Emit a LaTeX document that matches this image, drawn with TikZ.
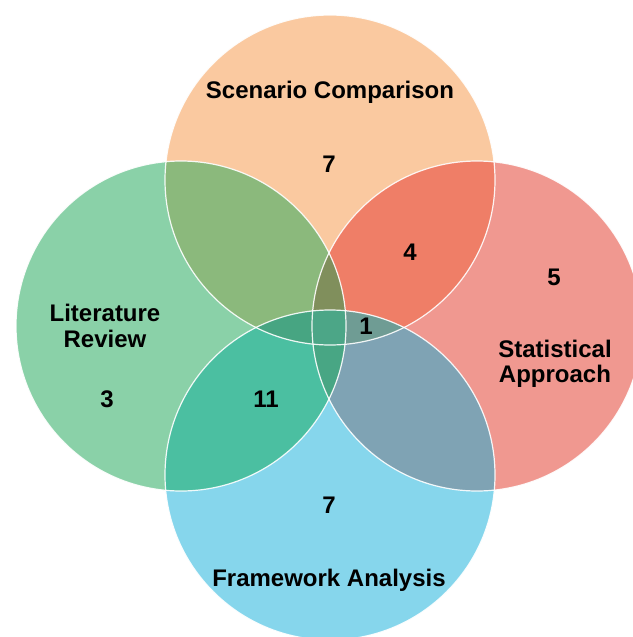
\documentclass[tikz,border=0pt]{standalone}
\usepackage{fontspec}
\setmainfont{Liberation Sans}
\definecolor{cO}{HTML}{FAC9A0}
\definecolor{cG}{HTML}{8AD1A8}
\definecolor{cR}{HTML}{F09890}
\definecolor{cB}{HTML}{86D6EC}
\definecolor{cOG}{HTML}{8BB97C}
\definecolor{cOR}{HTML}{EF7E67}
\definecolor{cGB}{HTML}{4BBFA1}
\definecolor{cRB}{HTML}{7FA3B4}
\definecolor{cOGR}{HTML}{808F5C}
\definecolor{cOGB}{HTML}{47A582}
\definecolor{cORB}{HTML}{6F9C94}
\definecolor{cGRB}{HTML}{48A684}
\definecolor{cAll}{HTML}{4CA687}
\tikzset{
  lbl/.style={font=\fontsize{18}{19}\selectfont\bfseries, text=black, align=center, inner sep=0pt},
  rim/.style={draw=white, line width=0.9pt, draw opacity=0.9}
}
\def\rr{123.75pt}
\def\cO{(330,180) circle [radius=\rr]}
\def\cG{(181,326) circle [radius=\rr]}
\def\cR{(477,326) circle [radius=\rr]}
\def\cB{(330,475) circle [radius=\rr]}
\begin{document}
\begin{tikzpicture}[x=0.75pt,y=-0.75pt]
\useasboundingbox (0,0) rectangle (633,637);
\fill[white] (0,0) rectangle (633,637);
\begin{scope}
\clip (0,0) rectangle (633,637);
% single circles
\fill[cO] \cO;
\fill[cR] \cR;
\fill[cG] \cG;
\fill[cB] \cB;
% pairwise
\begin{scope}\clip \cO; \fill[cOG] \cG; \end{scope}
\begin{scope}\clip \cO; \fill[cOR] \cR; \end{scope}
\begin{scope}\clip \cG; \fill[cGB] \cB; \end{scope}
\begin{scope}\clip \cR; \fill[cRB] \cB; \end{scope}
% triples
\begin{scope}\clip \cO; \clip \cG; \fill[cOGR] \cR; \end{scope}
\begin{scope}\clip \cO; \clip \cG; \fill[cOGB] \cB; \end{scope}
\begin{scope}\clip \cO; \clip \cR; \fill[cORB] \cB; \end{scope}
\begin{scope}\clip \cG; \clip \cR; \fill[cGRB] \cB; \end{scope}
% all four
\begin{scope}\clip \cO; \clip \cG; \clip \cR; \fill[cAll] \cB; \end{scope}
% rims
\draw[rim] \cO;
\draw[rim] \cG;
\draw[rim] \cR;
\draw[rim] \cB;
\end{scope}
% labels
\node[lbl] (tSC) at (330,92) {Scenario Comparison};
\node[lbl] (nSC) at (329,164) {7};
\node[lbl] (nOR) at (410,252) {4};
\node[lbl] (nR) at (554,277) {5};
\node[lbl] (tLR) at (105,326) {Literature\\Review};
\node[lbl] (nG) at (107,399) {3};
\node[lbl] (nGB) at (266,399) {11};
\node[lbl] (nORB) at (366,326) {1};
\node[lbl] (tSA) at (555,364) {Statistical\\Approach};
\node[lbl] (nB) at (329,505) {7};
\node[lbl] (tFA) at (329,580) {Framework Analysis};
\end{tikzpicture}
\end{document}
